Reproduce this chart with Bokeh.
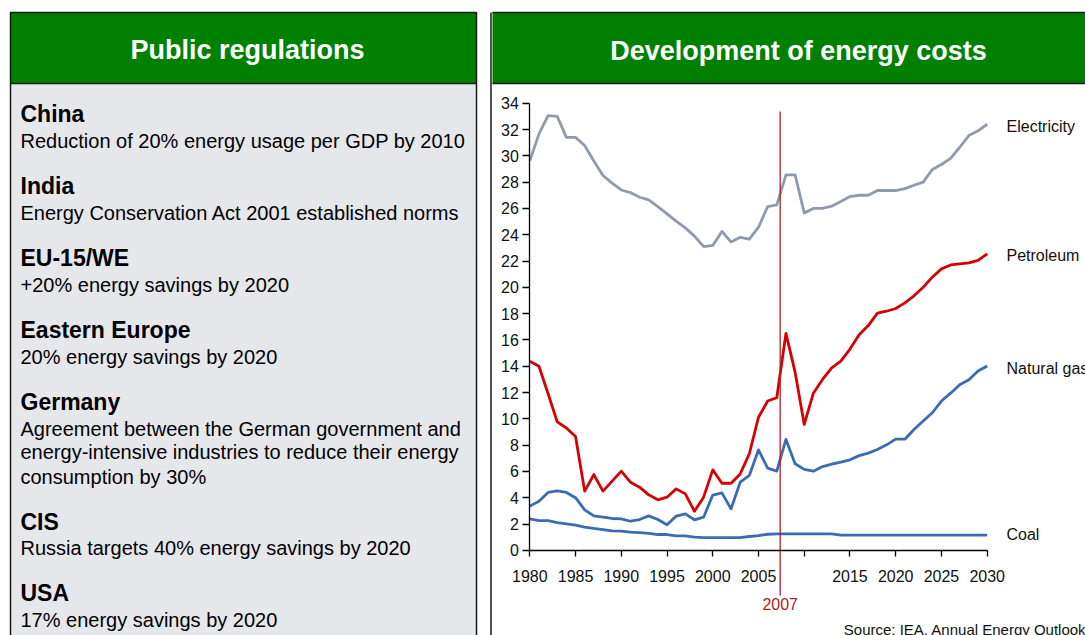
from bokeh.plotting import figure
from bokeh.layouts import row
from bokeh.models import Range1d, FixedTicker
from bokeh.core.properties import value
from bokeh.embed import file_html
from bokeh.resources import INLINE

FONT = "Liberation Sans"

# ---------------- data ----------------
years = list(range(1980, 2031))
electricity = [29.6, 31.67, 33.06, 33.0, 31.4, 31.4, 30.78, 29.6, 28.5, 27.92,
               27.4, 27.2, 26.85, 26.65, 26.14, 25.58, 25.03, 24.52, 23.89, 23.1,
               23.18, 24.24, 23.45, 23.8, 23.66, 24.57, 26.14, 26.27, 28.55, 28.55,
               25.66, 26.0, 26.0, 26.17, 26.52, 26.9, 27.0, 27.0, 27.36, 27.36,
               27.36, 27.5, 27.76, 28.0, 28.96, 29.34, 29.8, 30.65, 31.54, 31.9,
               32.4]
petroleum = [14.38, 14.0, 11.9, 9.77, 9.3, 8.65, 4.5, 5.76, 4.5, 5.26,
             6.02, 5.18, 4.8, 4.22, 3.84, 4.04, 4.67, 4.29, 2.97, 4.04,
             6.12, 5.1, 5.1, 5.81, 7.34, 10.12, 11.35, 11.6, 16.5, 13.55,
             9.57, 11.95, 12.99, 13.87, 14.38, 15.3, 16.4, 17.09, 18.03, 18.18,
             18.39, 18.82, 19.35, 20.0, 20.77, 21.4, 21.7, 21.78, 21.86, 22.04,
             22.54]
natural_gas = [3.36, 3.73, 4.4, 4.52, 4.4, 4.0, 3.08, 2.62, 2.52, 2.42,
               2.39, 2.21, 2.34, 2.62, 2.34, 1.94, 2.6, 2.77, 2.32, 2.52,
               4.2, 4.37, 3.15, 5.18, 5.69, 7.64, 6.25, 6.02, 8.43, 6.58,
               6.15, 6.02, 6.37, 6.55, 6.7, 6.88, 7.2, 7.39, 7.67, 8.02,
               8.45, 8.45, 9.19, 9.83, 10.46, 11.35, 11.95, 12.59, 12.97, 13.63,
               14.01]
coal = [2.39, 2.26, 2.26, 2.11, 2.01, 1.91, 1.76, 1.66, 1.58, 1.48,
        1.46, 1.38, 1.35, 1.28, 1.2, 1.2, 1.1, 1.1, 1.0, 0.97,
        0.97, 0.97, 0.97, 0.97, 1.05, 1.12, 1.22, 1.25, 1.25, 1.25,
        1.25, 1.25, 1.25, 1.25, 1.15, 1.15, 1.15, 1.15, 1.15, 1.15,
        1.15, 1.15, 1.15, 1.15, 1.15, 1.15, 1.15, 1.15, 1.15, 1.15,
        1.15]
series_names = ["Electricity", "Petroleum", "Natural gas", "Coal"]
x_ticks = list(range(1980, 2031, 5))
y_ticks = list(range(0, 35, 2))
marker_year = 2007

left_title = "Public regulations"
right_title = "Development of energy costs"
source_text = "Source: IEA, Annual Energy Outlook"

regions = ["China", "India", "EU-15/WE", "Eastern Europe", "Germany", "CIS", "USA"]
descriptions = [
    ["Reduction of 20% energy usage per GDP by 2010"],
    ["Energy Conservation Act 2001 established norms"],
    ["+20% energy savings by 2020"],
    ["20% energy savings by 2020"],
    ["Agreement between the German government and",
     "energy-intensive industries to reduce their energy",
     "consumption by 30%"],
    ["Russia targets 40% energy savings by 2020"],
    ["17% energy savings by 2020"],
]

# ---------------- layout constants (page pixels) ----------------
TOTAL_W, H = 1085, 635
W_L = 492
W_R = TOTAL_W - W_L
heading_base = [121.7, 193.3, 265.7, 337.7, 410.0, 529.3, 601.0]
desc_base = [[147.7], [219.3], [291.7], [363.3], [435.7, 459.0, 484.0], [554.7], [626.7]]
MID = 0.36  # baseline -> visual middle offset, in font sizes

# chart frame calibration: pixel positions of x=1980/2030 and y=0/34
PX_1980, PX_2030 = 529.3, 986.7
PY_0, PY_34 = 549.8, 102.7


def dx(px):
    return 1980 + (px - PX_1980) * 50.0 / (PX_2030 - PX_1980)


def dy(py):
    return (PY_0 - py) * 34.0 / (PY_0 - PY_34)


# ---------------- left panel ----------------
lf = figure(width=W_L, height=H, x_range=Range1d(0, W_L), y_range=Range1d(H, 0),
            x_axis_type=None, y_axis_type=None, min_border=0, output_backend="svg",
            toolbar_location=None, outline_line_color=None, background_fill_color="white",
            border_fill_color="white")
lf.grid.visible = False
lf.quad(left=10, right=476, top=83, bottom=700, fill_color="#e6e7eb", line_color=None)
lf.quad(left=10, right=476, top=12, bottom=83, fill_color="#008000", line_color=None)
lf.quad(left=10, right=476, top=12, bottom=700, fill_color=None, line_color="#1a1a1a", line_width=1.5)
lf.segment(x0=[10], y0=[83], x1=[476], y1=[83], line_color="#1a1a1a", line_width=1.5)
lf.segment(x0=[490.5], y0=[12], x1=[490.5], y1=[700], line_color="#1a1a1a", line_width=1.5)
lf.text(x=[247], y=[49.5], text=[left_title], text_font=value(FONT), text_font_style="bold",
        text_font_size="27px", text_color="white", text_align="center", text_baseline="middle")

hx, hy, ht = [], [], []
tx, ty, tt = [], [], []
for name, hb, lines, dbs in zip(regions, heading_base, descriptions, desc_base):
    hx.append(20); hy.append(hb - MID * 23); ht.append(name)
    for ln, b in zip(lines, dbs):
        tx.append(20); ty.append(b - MID * 20); tt.append(ln)
lf.text(x=hx, y=hy, text=ht, text_font=value(FONT), text_font_style="bold",
        text_font_size="23px", text_color="black", text_baseline="middle")
lf.text(x=tx, y=ty, text=tt, text_font=value(FONT),
        text_font_size="20px", text_color="black", text_baseline="middle")

# ---------------- right panel (header + chart in one frame) ----------------
p = figure(width=W_R, height=H, x_range=Range1d(dx(W_L), dx(TOTAL_W)), y_range=Range1d(dy(H), dy(0)),
           min_border=0, output_backend="svg", toolbar_location=None, outline_line_color=None,
           background_fill_color="white", border_fill_color="white")
p.grid.visible = False

# header box
p.quad(left=dx(490.5), right=dx(1100), top=dy(12), bottom=dy(83), fill_color="#008000",
       line_color="#1a1a1a", line_width=1.5)
p.text(x=[dx(798)], y=[dy(50)], text=[right_title], text_font=value(FONT), text_font_style="bold",
       text_font_size="27px", text_color="white", text_align="center", text_baseline="middle")

# series
colors = ["#8f9bab", "#d40000", "#3a6cb4", "#3a6cb4"]
for ys, c in zip([electricity, petroleum, natural_gas, coal], colors):
    p.line(years, ys, line_color=c, line_width=2.8, line_join="round")

# axes placed at data locations inside the frame
p.xaxis.fixed_location = 0
p.xaxis.bounds = (x_ticks[0], x_ticks[-1])
p.yaxis.fixed_location = x_ticks[0]
p.yaxis.bounds = (y_ticks[0], y_ticks[-1])
for ax in (p.xaxis[0], p.yaxis[0]):
    ax.axis_line_color = "black"
    ax.axis_line_width = 1.3
    ax.major_tick_line_color = "black"
    ax.major_tick_line_width = 1.3
    ax.major_tick_in = 0
    ax.minor_tick_line_color = None
    ax.major_label_text_font = FONT
    ax.major_label_text_font_size = "16px"
    ax.major_label_text_color = "#111111"

p.xaxis.ticker = FixedTicker(ticks=x_ticks)
p.xaxis.major_label_overrides = {2010: ""}
p.xaxis.major_tick_out = 6
p.xaxis.major_label_standoff = 14
p.yaxis.ticker = FixedTicker(ticks=y_ticks)
p.yaxis.major_tick_out = 7
p.yaxis.major_label_standoff = 4

# 2007 marker
mx = marker_year + 0.37
p.segment(x0=[mx], y0=[dy(111)], x1=[mx], y1=[dy(595)], line_color="#b22222", line_width=1.3)
p.text(x=[mx], y=[dy(609.3 - MID * 16)], text=[str(marker_year)], text_align="center",
       text_baseline="middle", text_font=value(FONT), text_font_size="16px",
       text_color="#b01c1c")

# series labels
label_base = [131.7, 260.7, 373.3, 540.0]
p.text(x=[dx(1006)] * 4, y=[dy(b - MID * 16) for b in label_base], text=series_names,
       text_font=value(FONT), text_font_size="16px", text_baseline="middle",
       text_color="#111111")

p.text(x=[dx(843.3)], y=[dy(634.5 - MID * 15)], text=[source_text], text_font=value(FONT),
       text_font_size="15px", text_baseline="middle", text_color="#111111")

layout = row(lf, p)
open("out.html", "w").write(file_html(layout, INLINE))
